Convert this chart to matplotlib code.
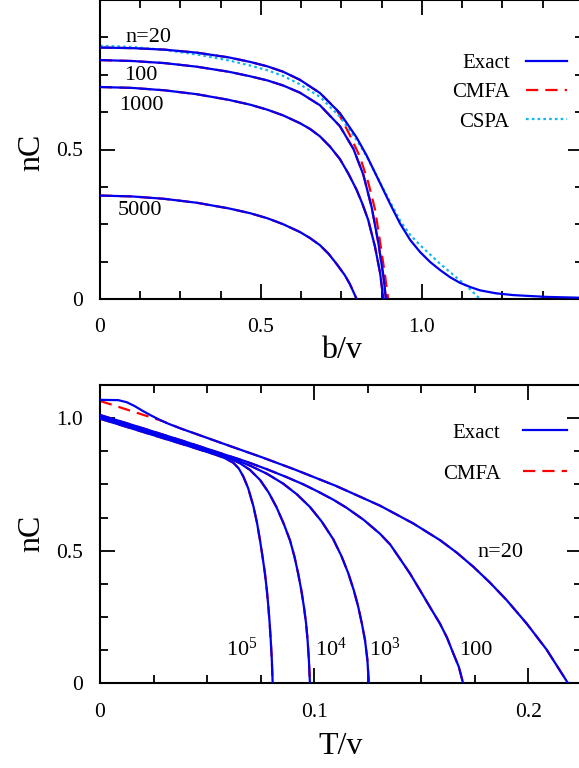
import matplotlib
matplotlib.use("Agg")
import matplotlib.pyplot as plt
from matplotlib.ticker import MultipleLocator

plt.rcParams['font.family'] = ['Liberation Serif', 'DejaVu Serif']
plt.rcParams['mathtext.fontset'] = 'custom'
plt.rcParams['mathtext.rm'] = 'Liberation Serif'
plt.rcParams['mathtext.it'] = 'Liberation Serif:italic'

# ---------------- top panel data (nC vs b/v) ----------------
b_n20 = [0, 0.1, 0.2, 0.3, 0.4, 0.466, 0.52, 0.569, 0.621, 0.683, 0.745, 0.797, 0.828, 0.870,
         0.901, 0.932, 0.963, 0.994, 1.025, 1.056, 1.087, 1.118, 1.150, 1.180, 1.23, 1.284, 1.387, 1.5]
c_n20 = [0.841, 0.839, 0.834, 0.824, 0.808, 0.793, 0.778, 0.760, 0.733, 0.689, 0.622, 0.540, 0.480, 0.387,
         0.318, 0.252, 0.198, 0.157, 0.124, 0.097, 0.073, 0.054, 0.040, 0.029, 0.019, 0.013, 0.007, 0.004]

b_n100 = [0, 0.1, 0.2, 0.3, 0.4, 0.466, 0.52, 0.569, 0.621, 0.683, 0.745, 0.787, 0.818, 0.844,
          0.864, 0.880, 0.888]
c_n100 = [0.799, 0.796, 0.789, 0.777, 0.760, 0.745, 0.731, 0.714, 0.690, 0.648, 0.578, 0.502, 0.415, 0.305,
          0.190, 0.078, 0.0]

b_n1000 = [0, 0.1, 0.2, 0.3, 0.4, 0.466, 0.52, 0.569, 0.621, 0.652, 0.683, 0.714, 0.745, 0.771, 0.797,
           0.815, 0.833, 0.854, 0.870, 0.880]
c_n1000 = [0.709, 0.706, 0.698, 0.685, 0.666, 0.650, 0.633, 0.614, 0.588, 0.569, 0.544, 0.510, 0.468, 0.420,
           0.365, 0.318, 0.264, 0.175, 0.086, 0.0]

b_n5000 = [0, 0.1, 0.2, 0.3, 0.4, 0.466, 0.52, 0.569, 0.621, 0.652, 0.683, 0.710, 0.735, 0.760, 0.776, 0.797]
c_n5000 = [0.346, 0.343, 0.335, 0.322, 0.303, 0.287, 0.270, 0.250, 0.224, 0.204, 0.180, 0.151, 0.117, 0.080,
           0.050, 0.0]

b_cmfa20 = [0, 0.1, 0.2, 0.3, 0.4, 0.466, 0.52, 0.569, 0.621, 0.683, 0.735, 0.776, 0.807, 0.833,
            0.854, 0.870, 0.885, 0.895]
c_cmfa20 = [0.841, 0.839, 0.834, 0.824, 0.808, 0.793, 0.778, 0.760, 0.733, 0.689, 0.633, 0.548, 0.476, 0.390,
            0.300, 0.190, 0.080, 0.0]

b_cspa20 = [0, 0.1, 0.2, 0.3, 0.4, 0.466, 0.52, 0.569, 0.621, 0.683, 0.745, 0.797, 0.828, 0.870,
            0.901, 0.932, 0.963, 0.994, 1.025, 1.056, 1.087, 1.118, 1.150, 1.180]
c_cspa20 = [0.847, 0.843, 0.833, 0.818, 0.798, 0.781, 0.765, 0.746, 0.718, 0.676, 0.610, 0.532, 0.478, 0.389,
            0.324, 0.262, 0.215, 0.180, 0.149, 0.118, 0.090, 0.062, 0.032, 0.0]

top_labels = ["n=20", "100", "1000", "5000"]
top_label_b = [0.152, 0.127, 0.127, 0.124]
top_label_c = [0.874, 0.747, 0.646, 0.295]

# ---------------- bottom panel data (nC vs T/v) ----------------
T_n20 = [0, 0.0085, 0.0125, 0.0163, 0.020, 0.0241, 0.028, 0.0319, 0.038, 0.0443, 0.0599, 0.0754,
         0.091, 0.110, 0.1307, 0.1462, 0.1587, 0.1665, 0.1742, 0.182, 0.1898, 0.1991, 0.2084, 0.2185]
c_T20 = [1.069, 1.068, 1.060, 1.045, 1.027, 1.009, 0.993, 0.979, 0.960, 0.942, 0.897, 0.853,
         0.806, 0.745, 0.670, 0.603, 0.540, 0.493, 0.440, 0.380, 0.314, 0.226, 0.128, 0.0]

T_cmfa20 = [0, 0.0288, 0.038, 0.0443, 0.0599, 0.0754, 0.091, 0.110, 0.1307, 0.1462,
            0.1587, 0.1665, 0.1742, 0.182, 0.1898, 0.1991, 0.2084, 0.2185]
c_Tcmfa20 = [1.065, 0.990, 0.960, 0.942, 0.897, 0.853, 0.806, 0.745, 0.670, 0.603,
             0.540, 0.493, 0.440, 0.380, 0.314, 0.226, 0.128, 0.0]

T_n100 = [0, 0.02, 0.04, 0.057, 0.068, 0.078, 0.087, 0.095, 0.102, 0.109, 0.1151, 0.123, 0.1307,
          0.1355, 0.140, 0.1447, 0.1493, 0.154, 0.1587, 0.162, 0.1649, 0.1675, 0.1695]
c_T100 = [1.012, 0.962, 0.911, 0.866, 0.837, 0.807, 0.778, 0.750, 0.722, 0.692, 0.662, 0.617, 0.564,
          0.523, 0.470, 0.414, 0.352, 0.288, 0.225, 0.172, 0.113, 0.062, 0.0]

T_n1e3 = [0, 0.02, 0.04, 0.057, 0.064, 0.070, 0.078, 0.0855, 0.092, 0.098, 0.1035, 0.1089, 0.1127,
          0.1159, 0.1185, 0.1205, 0.1222, 0.1237, 0.1248, 0.1255]
c_T1e3 = [1.007, 0.957, 0.906, 0.861, 0.841, 0.821, 0.790, 0.753, 0.712, 0.665, 0.610, 0.543, 0.480,
          0.415, 0.350, 0.290, 0.227, 0.163, 0.090, 0.0]

T_n1e4 = [0, 0.02, 0.04, 0.057, 0.0615, 0.0653, 0.070, 0.0747, 0.0787, 0.0824, 0.0857, 0.0887,
          0.0908, 0.0925, 0.094, 0.0952, 0.0962, 0.0969, 0.0975, 0.0980]
c_T1e4 = [1.002, 0.952, 0.901, 0.858, 0.845, 0.830, 0.805, 0.767, 0.720, 0.664, 0.603, 0.539,
          0.477, 0.414, 0.350, 0.288, 0.226, 0.163, 0.090, 0.0]

T_n1e5 = [0, 0.02, 0.04, 0.054, 0.058, 0.0622, 0.0648, 0.0669, 0.0692, 0.0716, 0.0733, 0.0747,
          0.0759, 0.077, 0.0779, 0.0786, 0.0792, 0.0797, 0.0802, 0.0806]
c_T1e5 = [0.998, 0.948, 0.898, 0.862, 0.850, 0.832, 0.810, 0.780, 0.735, 0.668, 0.605, 0.539,
          0.476, 0.414, 0.350, 0.288, 0.226, 0.163, 0.090, 0.0]

bot_labels = ["10$^5$", "10$^4$", "10$^3$", "100", "n=20"]
bot_label_T = [0.0660, 0.1077, 0.1330, 0.1755, 0.1871]
bot_label_c = [0.128, 0.128, 0.128, 0.122, 0.494]

BLUE = '#0000ee'
RED = '#ff0000'
SKY = '#10b8f0'

fig = plt.figure(figsize=(5.79, 7.68), dpi=100)
ax1 = fig.add_axes([100/579, 469/768, 483/579, 299/768])
ax2 = fig.add_axes([100/579, 84.7/768, 482/579, 298.3/768])

lw = 1.6
dash = (0, (5.5, 3.2))

# top panel
for bb, cc in [(b_n100, c_n100), (b_n1000, c_n1000), (b_n5000, c_n5000)]:
    ax1.plot(bb, cc, color=RED, lw=lw, ls=dash, zorder=2)
ax1.plot(b_cmfa20, c_cmfa20, color=RED, lw=lw, ls=dash, zorder=2, label='CMFA')
ax1.plot(b_cspa20, c_cspa20, color=SKY, lw=lw, ls=(0, (1.2, 1.4)), zorder=2, label='CSPA')
first = True
for bb, cc in [(b_n20, c_n20), (b_n100, c_n100), (b_n1000, c_n1000), (b_n5000, c_n5000)]:
    ax1.plot(bb, cc, color=BLUE, lw=lw, zorder=3, label='Exact' if first else None)
    first = False
for t, x, y in zip(top_labels, top_label_b, top_label_c):
    ax1.text(x, y, t, ha='center', va='center', fontsize=16)

ax1.set_xlim(0, 1.5)
ax1.set_ylim(0, 1.0)
ax1.set_xticks([0, 0.5, 1.0], ['0', '0.5', '1.0'])
ax1.set_yticks([0, 0.5], ['0', '0.5'])
ax1.xaxis.set_minor_locator(MultipleLocator(0.125))
ax1.yaxis.set_minor_locator(MultipleLocator(0.125))
ax1.set_xlabel('b/v', fontsize=23, va='center')
ax1.xaxis.set_label_coords(0.5, -0.171)
ax1.set_ylabel('nC', fontsize=23, va='center')
ax1.yaxis.set_label_coords(-0.141, 0.49)
h, l = ax1.get_legend_handles_labels()
order = [l.index('Exact'), l.index('CMFA'), l.index('CSPA')]
ax1.legend([h[i] for i in order], [l[i] for i in order], loc='upper right',
           bbox_to_anchor=(0.967, 0.822), frameon=False, markerfirst=False,
           fontsize=15, handlelength=1.95, handletextpad=0.8, labelspacing=0.47,
           borderpad=0, borderaxespad=0)

# bottom panel
for tt, cc in [(T_n100, c_T100), (T_n1e3, c_T1e3), (T_n1e4, c_T1e4), (T_n1e5, c_T1e5)]:
    ax2.plot(tt, cc, color=RED, lw=lw, ls=dash, zorder=2)
ax2.plot(T_cmfa20, c_Tcmfa20, color=RED, lw=lw, ls=dash, zorder=2, label='CMFA')
first = True
for tt, cc in [(T_n20, c_T20), (T_n100, c_T100), (T_n1e3, c_T1e3), (T_n1e4, c_T1e4), (T_n1e5, c_T1e5)]:
    ax2.plot(tt, cc, color=BLUE, lw=lw, zorder=3, label='Exact' if first else None)
    first = False
for t, x, y in zip(bot_labels, bot_label_T, bot_label_c):
    ax2.text(x, y, t, ha='center', va='center', fontsize=16)

ax2.set_xlim(0, 0.225)
ax2.set_ylim(0, 1.125)
ax2.set_xticks([0, 0.1, 0.2], ['0', '0.1', '0.2'])
ax2.set_yticks([0, 0.5, 1.0], ['0', '0.5', '1.0'])
ax2.xaxis.set_minor_locator(MultipleLocator(0.025))
ax2.yaxis.set_minor_locator(MultipleLocator(0.125))
ax2.set_xlabel('T/v', fontsize=23, va='center')
ax2.xaxis.set_label_coords(0.5, -0.2125)
ax2.set_ylabel('nC', fontsize=23, va='center')
ax2.yaxis.set_label_coords(-0.141, 0.504)
h, l = ax2.get_legend_handles_labels()
order = [l.index('Exact'), l.index('CMFA')]
ax2.legend([h[i] for i in order], [l[i] for i in order], loc='upper right',
           bbox_to_anchor=(0.969, 0.872), frameon=False, markerfirst=False,
           fontsize=15, handlelength=2.1, handletextpad=1.1, labelspacing=1.02,
           borderpad=0, borderaxespad=0)

for ax in (ax1, ax2):
    for s in ax.spines.values():
        s.set_linewidth(1.5)
    ax.tick_params(which='both', direction='in', top=True, right=True, labelsize=15.5, width=1.3)
    ax.tick_params(which='major', length=10.5)
    ax.tick_params(which='minor', length=6)
    ax.tick_params(axis='x', which='both', pad=14)
    ax.tick_params(axis='y', which='both', pad=12)

fig.savefig('out.png', dpi=100)
